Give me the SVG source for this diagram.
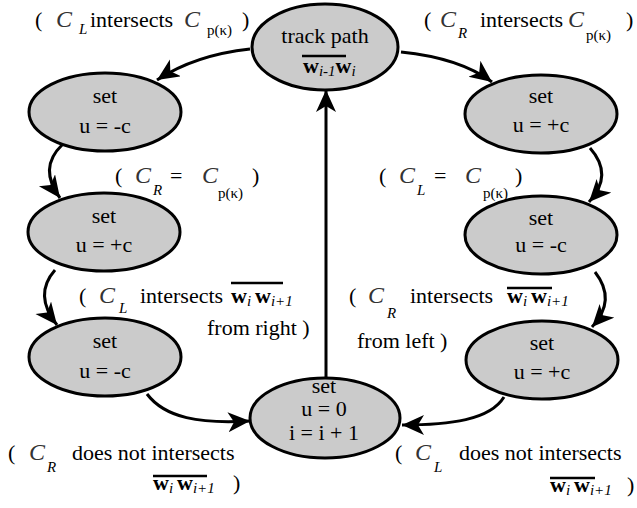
<svg xmlns="http://www.w3.org/2000/svg" width="637" height="508" viewBox="0 0 637 508">
<defs>
<marker id="ah" markerUnits="userSpaceOnUse" markerWidth="26" markerHeight="22" refX="22" refY="10" orient="auto">
<path d="M0,0 L22,10 L0,20 L6,10 Z" fill="#000"/>
</marker>
<ellipse id="shape" cx="0" cy="0" rx="76" ry="39" fill="#cbcbcb" stroke="#000" stroke-width="3"/>
</defs>
<g id="connectors" fill="none" stroke="#000" stroke-width="3" marker-end="url(#ah)">
<path d="M250,49 Q195,55 157,80"/>
<path d="M401,52 Q460,58 492,82"/>
<path d="M62,145 Q38,168 60,198"/>
<path d="M55,270 Q33,295 57,325"/>
<path d="M147,394 C165,418 200,424 250,421"/>
<path d="M590,148 Q614,175 589,202"/>
<path d="M595,272 Q617,300 592,327"/>
<path d="M504,397 C490,420 450,425 402,425"/>
<path d="M326,378 L326,90"/>
</g>
<g id="n_track">
<ellipse cx="325" cy="47" rx="73" ry="43" fill="#cbcbcb" stroke="#000" stroke-width="3"/>
<text font-family="Liberation Serif" font-size="22" text-anchor="middle" x="325" y="43">track path</text>
<line x1="302" y1="56" x2="346" y2="56" stroke="#000" stroke-width="2.5"/>
<text font-family="Liberation Serif" font-size="22" x="303" y="73"><tspan font-weight="bold">w</tspan><tspan font-size="15" font-style="italic" dy="3">i-1</tspan><tspan font-weight="bold" dy="-3">w</tspan><tspan font-size="15" font-style="italic" dy="3">i</tspan></text>
</g>
<g id="n_l1">
<use href="#shape" x="105" y="112"/>
<text font-family="Liberation Serif" font-size="22" text-anchor="middle" x="105" y="103">set</text>
<text font-family="Liberation Serif" font-size="22" text-anchor="middle" x="105" y="133">u = -c</text>
</g>
<g id="n_l2">
<use href="#shape" x="104" y="232"/>
<text font-family="Liberation Serif" font-size="22" text-anchor="middle" x="104" y="223">set</text>
<text font-family="Liberation Serif" font-size="22" text-anchor="middle" x="104" y="252">u = +c</text>
</g>
<g id="n_l3">
<use href="#shape" x="105" y="357"/>
<text font-family="Liberation Serif" font-size="22" text-anchor="middle" x="105" y="348">set</text>
<text font-family="Liberation Serif" font-size="22" text-anchor="middle" x="105" y="378">u = -c</text>
</g>
<g id="n_r1">
<use href="#shape" x="541" y="114"/>
<text font-family="Liberation Serif" font-size="22" text-anchor="middle" x="541" y="103">set</text>
<text font-family="Liberation Serif" font-size="22" text-anchor="middle" x="541" y="132">u = +c</text>
</g>
<g id="n_r2">
<use href="#shape" x="541" y="235"/>
<text font-family="Liberation Serif" font-size="22" text-anchor="middle" x="541" y="225">set</text>
<text font-family="Liberation Serif" font-size="22" text-anchor="middle" x="541" y="252">u = -c</text>
</g>
<g id="n_r3">
<use href="#shape" x="542" y="360"/>
<text font-family="Liberation Serif" font-size="22" text-anchor="middle" x="542" y="350">set</text>
<text font-family="Liberation Serif" font-size="22" text-anchor="middle" x="542" y="379">u = +c</text>
</g>
<g id="n_bottom">
<ellipse cx="325" cy="418" rx="75" ry="40" fill="#cbcbcb" stroke="#000" stroke-width="3"/>
<text font-family="Liberation Serif" font-size="22" text-anchor="middle" x="324" y="393">set</text>
<text font-family="Liberation Serif" font-size="22" text-anchor="middle" x="324" y="416">u = 0</text>
<text font-family="Liberation Serif" font-size="22" text-anchor="middle" x="324" y="440">i = i + 1</text>
</g>
<g id="labels">
<text font-family="Liberation Serif" font-size="22" x="35" y="27">(</text>
<text font-family="Liberation Serif" font-style="italic" font-size="24" fill="#333" x="56" y="27">C</text>
<text font-family="Liberation Serif" font-style="italic" font-size="15" x="79" y="34">L</text>
<text font-family="Liberation Serif" font-size="22" x="90" y="27">intersects</text>
<text font-family="Liberation Serif" font-style="italic" font-size="24" fill="#333" x="184" y="27">C</text>
<text font-family="Liberation Serif" font-size="15" x="207" y="35">p(κ)</text>
<text font-family="Liberation Serif" font-size="22" x="242" y="27">)</text>

<text font-family="Liberation Serif" font-size="22" x="424" y="27">(</text>
<text font-family="Liberation Serif" font-style="italic" font-size="24" fill="#333" x="440" y="27">C</text>
<text font-family="Liberation Serif" font-style="italic" font-size="15" x="458" y="38">R</text>
<text font-family="Liberation Serif" font-size="22" x="480" y="27">intersects</text>
<text font-family="Liberation Serif" font-style="italic" font-size="24" fill="#333" x="568" y="27">C</text>
<text font-family="Liberation Serif" font-size="15" x="586" y="40">p(κ)</text>
<text font-family="Liberation Serif" font-size="22" x="626" y="27">)</text>

<text font-family="Liberation Serif" font-size="22" x="115" y="183">(</text>
<text font-family="Liberation Serif" font-style="italic" font-size="24" fill="#333" x="135" y="183">C</text>
<text font-family="Liberation Serif" font-style="italic" font-size="15" x="153" y="195">R</text>
<text font-family="Liberation Serif" font-size="22" x="170" y="183">=</text>
<text font-family="Liberation Serif" font-style="italic" font-size="24" fill="#333" x="202" y="183">C</text>
<text font-family="Liberation Serif" font-size="15" x="218" y="198">p(κ)</text>
<text font-family="Liberation Serif" font-size="22" x="252" y="183">)</text>

<text font-family="Liberation Serif" font-size="22" x="379" y="183">(</text>
<text font-family="Liberation Serif" font-style="italic" font-size="24" fill="#333" x="399" y="183">C</text>
<text font-family="Liberation Serif" font-style="italic" font-size="15" x="417" y="195">L</text>
<text font-family="Liberation Serif" font-size="22" x="434" y="183">=</text>
<text font-family="Liberation Serif" font-style="italic" font-size="24" fill="#333" x="465" y="183">C</text>
<text font-family="Liberation Serif" font-size="15" x="483" y="198">p(κ)</text>
<text font-family="Liberation Serif" font-size="22" x="515" y="183">)</text>

<text font-family="Liberation Serif" font-size="22" x="79" y="303">(</text>
<text font-family="Liberation Serif" font-style="italic" font-size="24" fill="#333" x="99" y="303">C</text>
<text font-family="Liberation Serif" font-style="italic" font-size="15" x="119" y="313">L</text>
<text font-family="Liberation Serif" font-size="22" x="140" y="303">intersects</text>
<line x1="231" y1="283" x2="283" y2="283" stroke="#000" stroke-width="2.5"/>
<text font-family="Liberation Serif" font-size="22" x="231" y="303"><tspan font-weight="bold">w</tspan><tspan font-size="15" font-style="italic" dy="3">i</tspan><tspan font-weight="bold" dy="-3" dx="4">w</tspan><tspan font-size="15" font-style="italic" dy="3">i+1</tspan></text>
<text font-family="Liberation Serif" font-size="22" x="207" y="335">from right )</text>

<text font-family="Liberation Serif" font-size="22" x="349" y="303">(</text>
<text font-family="Liberation Serif" font-style="italic" font-size="24" fill="#333" x="368" y="303">C</text>
<text font-family="Liberation Serif" font-style="italic" font-size="15" x="387" y="318">R</text>
<text font-family="Liberation Serif" font-size="22" x="410" y="303">intersects</text>
<line x1="507" y1="288" x2="552" y2="288" stroke="#000" stroke-width="2.5"/>
<text font-family="Liberation Serif" font-size="22" x="507" y="303"><tspan font-weight="bold">w</tspan><tspan font-size="15" font-style="italic" dy="3">i</tspan><tspan font-weight="bold" dy="-3" dx="4">w</tspan><tspan font-size="15" font-style="italic" dy="3">i+1</tspan></text>
<text font-family="Liberation Serif" font-size="22" x="357" y="348">from left )</text>

<text font-family="Liberation Serif" font-size="22" x="8" y="460">(</text>
<text font-family="Liberation Serif" font-style="italic" font-size="24" fill="#333" x="29" y="460">C</text>
<text font-family="Liberation Serif" font-style="italic" font-size="15" x="47" y="472">R</text>
<text font-family="Liberation Serif" font-size="22" x="72" y="460">does not intersects</text>
<line x1="153" y1="476" x2="207" y2="476" stroke="#000" stroke-width="2.5"/>
<text font-family="Liberation Serif" font-size="22" x="153" y="490"><tspan font-weight="bold">w</tspan><tspan font-size="15" font-style="italic" dy="3">i</tspan><tspan font-weight="bold" dy="-3" dx="4">w</tspan><tspan font-size="15" font-style="italic" dy="3">i+1</tspan></text>
<text font-family="Liberation Serif" font-size="22" x="233" y="490">)</text>

<text font-family="Liberation Serif" font-size="22" x="395" y="460">(</text>
<text font-family="Liberation Serif" font-style="italic" font-size="24" fill="#333" x="415" y="460">C</text>
<text font-family="Liberation Serif" font-style="italic" font-size="15" x="434" y="472">L</text>
<text font-family="Liberation Serif" font-size="22" x="459" y="460">does not intersects</text>
<line x1="550" y1="478" x2="595" y2="478" stroke="#000" stroke-width="2.5"/>
<text font-family="Liberation Serif" font-size="22" x="550" y="492"><tspan font-weight="bold">w</tspan><tspan font-size="15" font-style="italic" dy="3">i</tspan><tspan font-weight="bold" dy="-3" dx="4">w</tspan><tspan font-size="15" font-style="italic" dy="3">i+1</tspan></text>
<text font-family="Liberation Serif" font-size="22" x="627" y="492">)</text>
</g>
</svg>
